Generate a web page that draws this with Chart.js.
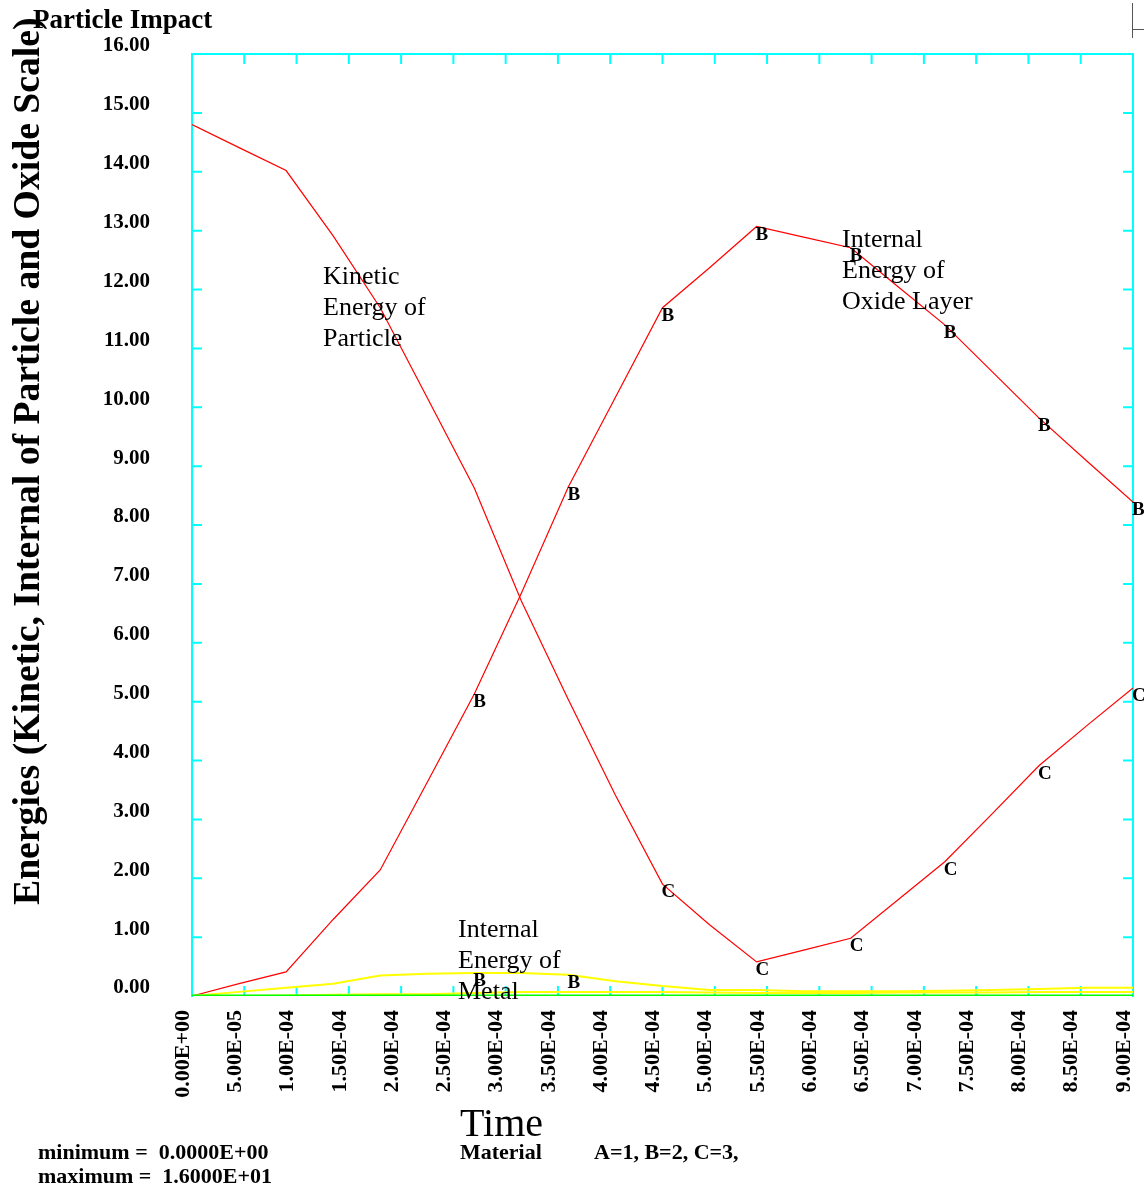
<!DOCTYPE html>
<html>
<head>
<meta charset="utf-8">
<title>Particle Impact</title>
<script src="https://cdn.jsdelivr.net/npm/chart.js@4.4.0/dist/chart.umd.min.js"></script>
<style>
  body { margin: 0; background: #fff; }
  canvas { display: block; }
</style>
</head>
<body>
<canvas id="chart" width="1144" height="1193"></canvas>
<script>
// time steps of the run (s)
const times = [0, 4.5e-5, 9e-5, 1.35e-4, 1.8e-4, 2.25e-4, 2.7e-4, 3.15e-4, 3.6e-4, 4.05e-4, 4.5e-4,
  4.95e-4, 5.4e-4, 5.85e-4, 6.3e-4, 6.75e-4, 7.2e-4, 7.65e-4, 8.1e-4, 8.55e-4, 9.0e-4];

const kineticParticle = [14.80, 14.41, 14.02, 12.91, 11.69, 10.16, 8.63, 6.71, 5.03, 3.41, 1.90,
  1.21, 0.58, 0.78, 0.98, 1.63, 2.28, 3.09, 3.91, 4.58, 5.23];
const internalOxide = [0, 0.21, 0.41, 1.30, 2.14, 3.63, 5.13, 6.84, 8.65, 10.17, 11.69,
  12.37, 13.07, 12.89, 12.71, 12.05, 11.40, 10.61, 9.82, 9.10, 8.39];
const internalMetal = [0, 0.07, 0.14, 0.21, 0.35, 0.38, 0.39, 0.39, 0.36, 0.25, 0.17,
  0.10, 0.10, 0.08, 0.08, 0.08, 0.09, 0.10, 0.12, 0.14, 0.14];
const internalMetal2 = [0, 0, 0.01, 0.02, 0.03, 0.03, 0.05, 0.07, 0.07, 0.07, 0.07,
  0.06, 0.05, 0.05, 0.05, 0.06, 0.06, 0.06, 0.07, 0.07, 0.07];
const materialA = [0, 0, 0, 0, 0, 0, 0, 0, 0, 0, 0, 0, 0, 0, 0, 0, 0, 0, 0, 0, 0];

// material letters written at every other step
const oxideLetters = ['', '', '', '', '', '', 'B', '', 'B', '', 'B', '', 'B', '', 'B', '', 'B', '', 'B', '', 'B'];
const kineticLetters = ['', '', '', '', '', '', '', '', '', '', 'C', '', 'C', '', 'C', '', 'C', '', 'C', '', 'C'];
const metalLetters = ['', '', '', '', '', '', 'B', '', 'B', '', '', '', '', '', '', '', '', '', '', '', ''];

const xTicks = [0, 5e-5, 1e-4, 1.5e-4, 2e-4, 2.5e-4, 3e-4, 3.5e-4, 4e-4, 4.5e-4,
  5e-4, 5.5e-4, 6e-4, 6.5e-4, 7e-4, 7.5e-4, 8e-4, 8.5e-4, 9e-4];
const xTickLabels = ['0.00E+00', '5.00E-05', '1.00E-04', '1.50E-04', '2.00E-04', '2.50E-04',
  '3.00E-04', '3.50E-04', '4.00E-04', '4.50E-04', '5.00E-04', '5.50E-04', '6.00E-04',
  '6.50E-04', '7.00E-04', '7.50E-04', '8.00E-04', '8.50E-04', '9.00E-04'];

const serif = "'Liberation Serif', 'Times New Roman', serif";
const cyan = '#00ffff';

const pts = (ys) => times.map((t, i) => ({x: t, y: ys[i]}));

const decorations = {
  id: 'decorations',
  beforeDraw(chart) {
    const c = chart.ctx;
    c.save();
    c.fillStyle = '#fff';
    c.fillRect(0, 0, chart.width, chart.height);
    c.restore();
  },
  beforeDatasetsDraw(chart) {
    const c = chart.ctx;
    const {left, right, top, bottom} = chart.chartArea;
    const {x, y} = chart.scales;
    c.save();
    c.strokeStyle = cyan;
    c.lineWidth = 2;
    c.beginPath();
    c.moveTo(left, bottom + 1);
    c.lineTo(left, top);
    c.lineTo(right, top);
    c.lineTo(right, bottom + 1);
    // inward tick marks on all four sides
    y.ticks.forEach(t => {
      const py = y.getPixelForValue(t.value);
      if (py <= top + 1 || py >= bottom - 1) return;
      c.moveTo(left, py); c.lineTo(left + 10, py);
      c.moveTo(right, py); c.lineTo(right - 10, py);
    });
    x.ticks.forEach(t => {
      const px = x.getPixelForValue(t.value);
      if (px <= left + 1 || px >= right - 1) return;
      c.moveTo(px, top); c.lineTo(px, top + 10);
      c.moveTo(px, bottom); c.lineTo(px, bottom - 10);
    });
    c.stroke();
    c.restore();
  },
  afterDatasetsDraw(chart) {
    const c = chart.ctx;
    c.save();
    c.fillStyle = '#000';
    c.font = 'bold 19px ' + serif;
    c.textAlign = 'left';
    c.textBaseline = 'alphabetic';
    chart.data.datasets.forEach((ds, i) => {
      if (!ds.letters) return;
      chart.getDatasetMeta(i).data.forEach((p, j) => {
        if (ds.letters[j]) c.fillText(ds.letters[j], p.x - 1, p.y + 13);
      });
    });
    c.restore();
  },
  afterDraw(chart) {
    const c = chart.ctx;
    c.save();
    c.fillStyle = '#000';
    c.textAlign = 'left';
    c.textBaseline = 'alphabetic';

    c.font = 'bold 27px ' + serif;
    c.fillText('Particle Impact', 33, 28);

    // curve annotations
    c.font = '26px ' + serif;
    [['Kinetic', 'Energy of', 'Particle', 323, 284],
     ['Internal', 'Energy of', 'Oxide Layer', 842, 247],
     ['Internal', 'Energy of', 'Metal', 458, 937]].forEach(([a, b, d, tx, ty]) => {
      c.fillText(a, tx, ty);
      c.fillText(b, tx, ty + 31);
      c.fillText(d, tx, ty + 62);
    });

    c.font = '40px ' + serif;
    c.fillText('Time', 460, 1136);

    c.font = 'bold 22px ' + serif;
    c.fillText('minimum =  0.0000E+00', 38, 1159);
    c.fillText('maximum =  1.6000E+01', 38, 1183);
    c.fillText('Material', 460, 1159);
    c.fillText('A=1, B=2, C=3,', 594, 1159);

    c.save();
    c.translate(39, 905);
    c.rotate(-Math.PI / 2);
    c.font = 'bold 37.7px ' + serif;
    c.fillText('Energies (Kinetic, Internal of Particle and Oxide Scale)', 0, 0);
    c.restore();

    // small corner mark at the top right
    c.strokeStyle = '#555';
    c.lineWidth = 1;
    c.beginPath();
    c.moveTo(1132.5, 3);
    c.lineTo(1132.5, 38);
    c.moveTo(1132.5, 29.5);
    c.lineTo(1144, 29.5);
    c.stroke();
    c.restore();
  }
};

const ctx = document.getElementById('chart');
new Chart(ctx, {
  type: 'line',
  data: {
    datasets: [
      {data: pts(materialA), borderColor: '#00ff00', borderWidth: 3, order: -1},
      {data: pts(internalMetal2), borderColor: '#ffff00', borderWidth: 2},
      {data: pts(internalMetal), borderColor: '#ffff00', borderWidth: 2, letters: metalLetters},
      {data: pts(kineticParticle), borderColor: '#ff0000', borderWidth: 1.2, letters: kineticLetters},
      {data: pts(internalOxide), borderColor: '#ff0000', borderWidth: 1.2, letters: oxideLetters}
    ]
  },
  options: {
    responsive: false,
    animation: false,
    layout: {padding: {top: 54, right: 11, left: 0, bottom: 0}},
    elements: {
      point: {radius: 0},
      line: {tension: 0, fill: false}
    },
    scales: {
      x: {
        type: 'linear',
        min: 0,
        max: 9e-4,
        afterBuildTicks: (scale) => { scale.ticks = xTicks.map(v => ({value: v})); },
        afterFit: (scale) => {
          scale.height = 197;
          scale.paddingLeft = 0;
          scale.paddingRight = 0;
        },
        grid: {display: false, drawTicks: false},
        border: {display: false},
        ticks: {
          autoSkip: false,
          minRotation: 90,
          maxRotation: 90,
          padding: 14,
          labelOffset: -9,
          color: '#000',
          font: {family: serif, weight: 'bold', size: 22},
          callback: (v, i) => xTickLabels[i]
        }
      },
      y: {
        min: 0,
        max: 16,
        afterFit: (scale) => {
          scale.width = 192;
          scale.paddingTop = 0;
          scale.paddingBottom = 0;
        },
        grid: {display: false, drawTicks: false},
        border: {display: false},
        ticks: {
          stepSize: 1,
          padding: 42,
          labelOffset: -8,
          color: '#000',
          font: {family: serif, weight: 'bold', size: 21},
          callback: (v) => v.toFixed(2)
        }
      }
    },
    plugins: {
      legend: {display: false},
      tooltip: {enabled: false}
    }
  },
  plugins: [decorations]
});
</script>
</body>
</html>
